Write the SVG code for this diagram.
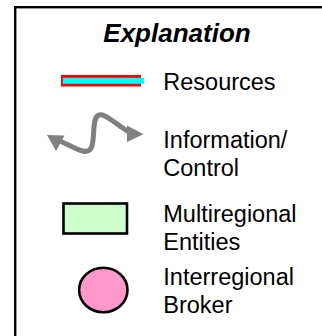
<svg xmlns="http://www.w3.org/2000/svg" width="322" height="336" viewBox="0 0 322 336">
<style>
text{font-family:"Liberation Sans",Arial,sans-serif;font-size:23.5px;fill:#000}
.title{font-size:26px;font-weight:bold;font-style:italic}
.arrow{fill:none;stroke:#808080;stroke-width:5;stroke-linecap:round;stroke-linejoin:round}
.head{fill:#808080}
</style>
<rect x="15.2" y="7.2" width="320" height="340" fill="#fff" stroke="#000" stroke-width="2.4"/>
<text class="title" x="177" y="42.3" text-anchor="middle">Explanation</text>
<g id="resources">
<rect x="61" y="75" width="80" height="11.5" fill="#ff0000"/>
<rect x="62.8" y="77.8" width="81.2" height="6" fill="#00ffff"/>
<text x="163.3" y="90">Resources</text>
</g>
<g id="information">
<path class="arrow" d="M60 141 C74 147 88 158 92 146 C95 134 92 117 99 115 C106 113 116 125 129 132"/>
<polygon class="head" points="47,135 64.5,135.5 56,151"/>
<polygon class="head" points="127,125.5 143.5,134.3 127,142"/>
<text x="163.3" y="147.8">Information/</text>
<text x="163.3" y="176">Control</text>
</g>
<g id="multiregional">
<rect x="63.5" y="203.5" width="63.5" height="30" fill="#ccffcc" stroke="#000" stroke-width="2.6"/>
<text x="163.3" y="221.7">Multiregional</text>
<text x="163.3" y="249.6">Entities</text>
</g>
<g id="broker">
<ellipse cx="103.3" cy="290" rx="24.2" ry="22.2" fill="#ff99cc" stroke="#000" stroke-width="2.6"/>
<text x="163.3" y="285.3">Interregional</text>
<text x="163.3" y="313">Broker</text>
</g>
</svg>
